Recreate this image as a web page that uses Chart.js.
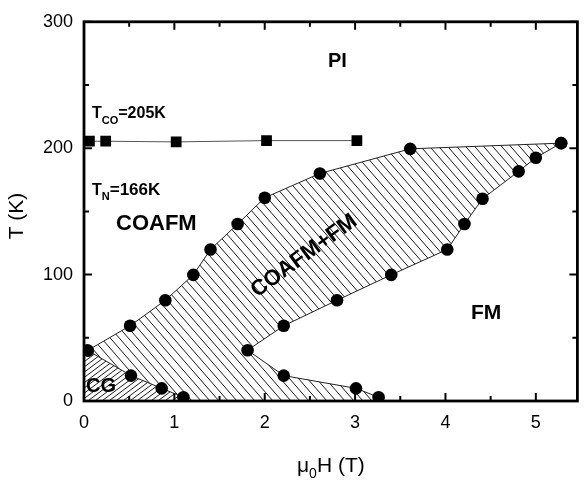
<!DOCTYPE html>
<html>
<head>
<meta charset="utf-8">
<script src="https://cdn.jsdelivr.net/npm/chart.js@4.4.1/dist/chart.umd.min.js"></script>
<style>
  html, body { margin: 0; padding: 0; background: #fff; }
  #wrap { width: 585px; height: 483px; }
</style>
</head>
<body>
<div id="wrap"><canvas id="phaseChart" width="585" height="483"></canvas></div>
<script>
// charge-order transition, T_CO line
const coH = [0.06, 0.24, 1.02, 2.02, 3.02];
const coT = [205.5, 205.5, 205, 206, 206];

// upper edge of the COAFM+FM band
const upH = [0.04, 0.51, 0.90, 1.21, 1.40, 1.70, 2.00, 2.61, 3.61, 5.28];
const upT = [40, 59.5, 79.7, 99.8, 119.9, 140, 160.8, 180, 199.5, 204];

// right / lower edge, back down to the axis
const lowH = [5.28, 5.00, 4.81, 4.41, 4.21, 4.02, 3.40, 2.80, 2.21, 1.81, 2.21, 3.01, 3.26];
const lowT = [204, 192.5, 181.7, 160, 140, 119.9, 99.8, 79.7, 59.5, 40.2, 20.1, 10, 3];

// cluster-glass edge
const cgH = [0.04, 0.52, 0.86, 1.10];
const cgT = [40, 20.1, 10, 3];

const xTicks = [0, 1, 2, 3, 4, 5];
const xMinor = [0.5, 1.5, 2.5, 3.5, 4.5];
const yTicks = [0, 100, 200, 300];
const yMinor = [50, 150, 250];

const FONT = '"Liberation Sans", Arial, Helvetica, sans-serif';

const pts = (hs, ts) => hs.map((h, i) => ({ x: h, y: ts[i] }));

function tracePath(ctx, x, y, list) {
  ctx.beginPath();
  list.forEach((p, i) => {
    const px = x.getPixelForValue(p[0]), py = y.getPixelForValue(p[1]);
    if (i) ctx.lineTo(px, py); else ctx.moveTo(px, py);
  });
  ctx.closePath();
}

// parallel lines across the area, slope = dy/dx in screen pixels
function hatchLines(ctx, a, slope, gap) {
  const run = a.height / slope;
  ctx.beginPath();
  for (let x0 = a.left - Math.abs(run) - gap; x0 < a.right + Math.abs(run) + gap; x0 += gap) {
    ctx.moveTo(x0, a.top);
    ctx.lineTo(x0 + run, a.bottom);
  }
  ctx.stroke();
}

const hatch = {
  id: 'hatch',
  beforeDatasetsDraw(chart) {
    const { ctx, chartArea: a, scales: { x, y } } = chart;
    const up = upH.map((h, i) => [h, upT[i]]);
    const low = lowH.map((h, i) => [h, lowT[i]]);
    const cg = cgH.map((h, i) => [h, cgT[i]]);

    const band = up.concat(low, [[lowH[lowH.length - 1], 0], [cgH[cgH.length - 1], 0]], cg.slice().reverse());
    const glass = [[0, 0], [0, cgT[0]]].concat(cg, [[cgH[cgH.length - 1], 0]]);

    ctx.save();
    ctx.beginPath();
    ctx.rect(a.left, a.top, a.width, a.height);
    ctx.clip();
    ctx.strokeStyle = '#1a1a1a';
    ctx.lineWidth = 1;

    ctx.save();
    tracePath(ctx, x, y, band);
    ctx.clip();
    hatchLines(ctx, a, 1.15, 9);
    ctx.restore();

    ctx.save();
    tracePath(ctx, x, y, glass);
    ctx.clip();
    hatchLines(ctx, a, -0.75, 7);
    ctx.restore();

    ctx.restore();
  }
};

function subText(ctx, x, y, parts) {
  parts.forEach(([s, size, dy]) => {
    ctx.font = 'bold ' + size + 'px ' + FONT;
    ctx.fillText(s, x, y + dy);
    x += ctx.measureText(s).width;
  });
}

const frame = {
  id: 'frame',
  afterDraw(chart) {
    const { ctx, chartArea: a, scales: { x, y } } = chart;
    ctx.save();
    ctx.strokeStyle = '#000';
    ctx.lineCap = 'butt';

    // inward ticks on all four sides
    const tick = (vals, len) => {
      ctx.beginPath();
      vals.forEach(v => {
        const px = x.getPixelForValue(v);
        ctx.moveTo(px, a.bottom); ctx.lineTo(px, a.bottom - len);
        ctx.moveTo(px, a.top); ctx.lineTo(px, a.top + len);
      });
      ctx.stroke();
    };
    const tickY = (vals, len) => {
      ctx.beginPath();
      vals.forEach(v => {
        const py = y.getPixelForValue(v);
        ctx.moveTo(a.left, py); ctx.lineTo(a.left + len, py);
        ctx.moveTo(a.right, py); ctx.lineTo(a.right - len, py);
      });
      ctx.stroke();
    };
    ctx.lineWidth = 2;
    tick(xTicks, 8);
    tick(xMinor, 5);
    tickY(yTicks, 8);
    tickY(yMinor, 5);

    ctx.lineWidth = 2.8;
    ctx.strokeRect(a.left, a.top, a.width, a.height);

    // axis titles
    ctx.fillStyle = '#000';
    ctx.font = '21px ' + FONT;
    ctx.textBaseline = 'alphabetic';
    ctx.save();
    ctx.translate(23, 216);
    ctx.rotate(-Math.PI / 2);
    ctx.textAlign = 'center';
    ctx.fillText('T (K)', 0, 0);
    ctx.restore();

    ctx.textAlign = 'left';
    let tx = 297;
    ctx.font = '21px ' + FONT;
    ctx.fillText('\u03bc', tx, 472);
    tx += ctx.measureText('\u03bc').width;
    ctx.font = '14px ' + FONT;
    ctx.fillText('0', tx, 478);
    tx += ctx.measureText('0').width;
    ctx.font = '21px ' + FONT;
    ctx.fillText('H (T)', tx, 472);

    // phase labels
    ctx.font = 'bold 20px ' + FONT;
    ctx.fillText('PI', 328, 67);
    ctx.font = 'bold 22px ' + FONT;
    ctx.fillText('COAFM', 116, 230);
    ctx.font = 'bold 21px ' + FONT;
    ctx.fillText('FM', 471, 319);
    ctx.font = 'bold 20px ' + FONT;
    ctx.fillText('CG', 86, 392);

    subText(ctx, 92, 118, [['T', 16, 0], ['CO', 11, 6], ['=205K', 16, 0]]);
    subText(ctx, 92, 195, [['T', 16, 0], ['N', 11, 5], ['=166K', 17, 0]]);

    ctx.save();
    ctx.translate(304, 256);
    ctx.rotate(-36 * Math.PI / 180);
    ctx.textAlign = 'center';
    ctx.textBaseline = 'middle';
    ctx.font = 'bold 22px ' + FONT;
    ctx.fillText('COAFM+FM', 0, 0);
    ctx.restore();

    ctx.restore();
  }
};

const edge = (data) => ({
  data,
  showLine: true,
  borderColor: '#222',
  borderWidth: 1,
  pointStyle: 'circle',
  pointRadius: 6.3,
  pointBackgroundColor: '#000',
  pointBorderWidth: 0,
  tension: 0
});

new Chart(document.getElementById('phaseChart'), {
  type: 'scatter',
  data: {
    datasets: [
      {
        data: pts(coH, coT),
        showLine: true,
        borderColor: '#555',
        borderWidth: 1,
        pointStyle: 'rect',
        pointRadius: 7.6,
        pointBackgroundColor: '#000',
        pointBorderWidth: 0
      },
      edge(pts(upH, upT)),
      edge(pts(lowH, lowT)),
      edge(pts(cgH, cgT))
    ]
  },
  options: {
    responsive: false,
    animation: false,
    events: [],
    layout: { padding: { top: 13, right: 1, left: 0, bottom: 0 } },
    plugins: { legend: { display: false }, tooltip: { enabled: false } },
    scales: {
      x: {
        type: 'linear',
        min: 0,
        max: 5.46,
        afterBuildTicks: s => { s.ticks = xTicks.map(v => ({ value: v })); },
        afterFit: s => { s.height = 82; },
        grid: { display: false, drawTicks: false },
        border: { display: false },
        ticks: { color: '#000', font: { family: FONT, size: 18 }, padding: 11, maxRotation: 0 }
      },
      y: {
        type: 'linear',
        min: 0,
        max: 300,
        afterBuildTicks: s => { s.ticks = yTicks.map(v => ({ value: v })); },
        afterFit: s => { s.width = 84; },
        grid: { display: false, drawTicks: false },
        border: { display: false },
        ticks: { color: '#000', font: { family: FONT, size: 18 }, padding: 11 }
      }
    }
  },
  plugins: [hatch, frame]
});
</script>
</body>
</html>
